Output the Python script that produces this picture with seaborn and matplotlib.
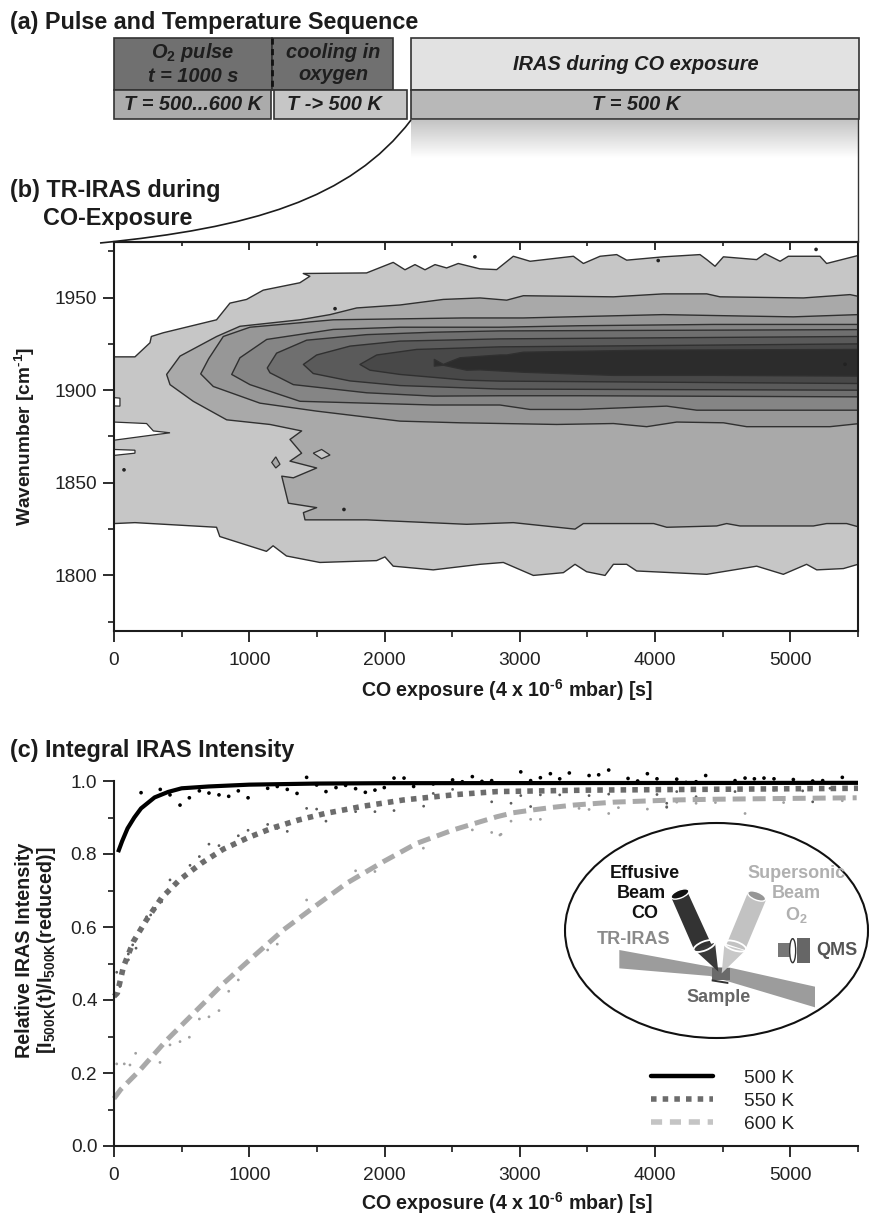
import numpy as np
import matplotlib
matplotlib.use("Agg")
import matplotlib.pyplot as plt
import seaborn as sns
from matplotlib.lines import Line2D
from matplotlib.patches import Ellipse, Polygon, Rectangle, PathPatch
from matplotlib.path import Path

# ---------- panel (b): contour band outlines (exposure, wavenumber) ----------
b1_up_x = [0, 155, 266, 276, 364, 758, 857, 980, 1103, 1374, 1448, 1399, 1867, 2064, 2151, 2225, 2299, 2373, 2459, 2545, 2705, 2829, 2952, 3076, 3396, 3470, 3593, 3716, 3790, 4061, 4332, 4382, 4443, 4505, 4751, 4813, 4924, 4985, 5219, 5268, 5500]
b1_up_w = [1918, 1918, 1925.6, 1929, 1931, 1938, 1947, 1949, 1954, 1958, 1961.5, 1963, 1963.3, 1969, 1965, 1967.8, 1965, 1967.8, 1966, 1968.4, 1965.5, 1965.1, 1972.3, 1969.6, 1972.3, 1968.4, 1972.3, 1973.2, 1970.2, 1972, 1973.2, 1970.5, 1966.9, 1972, 1970.5, 1973.7, 1969.6, 1972.3, 1972.3, 1968.4, 1972.7]
b1_lo_x = [0, 155, 758, 782, 1127, 1176, 1275, 1522, 1941, 2003, 2064, 2360, 2706, 2878, 3100, 3322, 3408, 3494, 3630, 3692, 3790, 3864, 4382, 4751, 4948, 5120, 5195, 5392, 5500]
b1_lo_w = [1828, 1828.5, 1826, 1821, 1813, 1816, 1810.5, 1807, 1808, 1810, 1805, 1803, 1806, 1807, 1800, 1801.5, 1806, 1802, 1800, 1806, 1806, 1802.4, 1800.6, 1805, 1800.6, 1806, 1803, 1803.7, 1806]

b2_up_x = [389, 488, 759, 931, 1375, 1597, 1794, 2114, 2434, 2706, 2903, 3026, 3692, 4061, 4382, 4480, 5096, 5441, 5500]
b2_up_w = [1908.5, 1918.4, 1929, 1934.5, 1938, 1940.8, 1944.4, 1946, 1949, 1949.8, 1948.6, 1951, 1950.4, 1952, 1952, 1950.4, 1949.8, 1951.6, 1950.7]
b2_lo_x = [389, 414, 586, 833, 1153, 1387, 1301, 1387, 1301, 1498, 1326, 1240, 1289, 1498, 1400, 1412, 1868, 2607, 2952, 3408, 3470, 3990, 4086, 4455, 4529, 4628, 5170, 5268, 5416, 5500]
b2_lo_w = [1908.5, 1903, 1894, 1884, 1881.5, 1878, 1873.4, 1866, 1861.7, 1858, 1852.7, 1853.6, 1839, 1836.6, 1833.9, 1830, 1830, 1827.6, 1828.5, 1825, 1828, 1828, 1826, 1826.7, 1828, 1826.7, 1826.7, 1828, 1828, 1826.3]

b3_up_x = [641, 700, 808, 1005, 1621, 2582, 3026, 4061, 4677, 5022, 5500]
b3_up_w = [1908.8, 1917, 1929, 1934, 1938, 1939, 1939, 1940.8, 1940, 1939.6, 1940.8]
b3_lo_x = [641, 734, 1079, 1498, 2114, 2558, 3273, 3692, 3938, 4160, 4505, 4677, 5293, 5500]
b3_lo_w = [1908.8, 1902, 1893, 1888.7, 1883.3, 1882.4, 1881.5, 1882, 1880.3, 1882.8, 1882.4, 1880.3, 1880.3, 1881.9]

b4_up_x = [870, 931, 1129, 1621, 2114, 2853, 3445, 4431, 5500]
b4_up_w = [1908.5, 1917.5, 1927.4, 1932.8, 1934, 1934, 1934.8, 1935.5, 1935.5]
b4_lo_x = [870, 1005, 1375, 2360, 2853, 3076, 3445, 4086, 4308, 5500]
b4_lo_w = [1908.5, 1903, 1894, 1892, 1892, 1889.6, 1889.6, 1891.4, 1889.2, 1889.2]

b5_up_x = [1133, 1202, 1424, 1868, 2360, 2853, 5500]
b5_up_w = [1912, 1920, 1927, 1930, 1931.3, 1932, 1932.7]
b5_lo_x = [1133, 1153, 1326, 1868, 2360, 2853, 3445, 5500]
b5_lo_w = [1912, 1909.4, 1903, 1898.6, 1896.8, 1897, 1897, 1896.4]

b6_up_x = [1400, 1498, 1745, 2114, 2853, 5500]
b6_up_w = [1913.9, 1919, 1923.8, 1926.5, 1927.7, 1929]
b6_lo_x = [1400, 1473, 1745, 2114, 2853, 5500]
b6_lo_w = [1913.9, 1909, 1905, 1902.5, 1900.6, 1900]

b7_up_x = [1818, 1942, 2237, 2853, 5500]
b7_up_w = [1913.9, 1919, 1922, 1923.4, 1925]
b7_lo_x = [1818, 1892, 2114, 2607, 2853, 5500]
b7_lo_w = [1913.9, 1910.8, 1908.5, 1905.4, 1904.9, 1903.6]

b8_up_x = [2368, 2434, 2558, 2853, 2903, 3026, 3938, 5500]
b8_up_w = [1916.6, 1913.9, 1917.5, 1919, 1919, 1920.5, 1921.6, 1922]
b8_lo_x = [2368, 2434, 2607, 2706, 3026, 3692, 4431, 5500]
b8_lo_w = [1913, 1913.5, 1910.8, 1911, 1909.7, 1908, 1908, 1907.6]

band_colors = ["#c6c6c6", "#a9a9a9", "#979797", "#858585", "#6f6f6f", "#5a5a5a", "#484848", "#2c2c2c"]

notch1_x = [0, 241, 291, 414, 266, 0]
notch1_w = [1882.8, 1882, 1878, 1877, 1875.6, 1873]
notch2_x = [0, 155, 155, 0]
notch2_w = [1868, 1867.6, 1866, 1864.8]
notch3_x = [0, 44, 44, 0]
notch3_w = [1896, 1895.7, 1891.4, 1891.5]
isle1_x = [1473, 1535, 1597, 1535]
isle1_w = [1866, 1868, 1865, 1863]
isle2_x = [1166, 1196, 1227, 1196]
isle2_w = [1861, 1864, 1860, 1858]
speck_x = [1634, 2668, 1700, 74, 5404, 5190, 4023]
speck_w = [1944, 1972, 1835.6, 1857, 1914, 1976, 1970]

# ---------- panel (c) ----------
fit500_x = [30, 60, 100, 150, 200, 300, 400, 500, 700, 1000, 1500, 2000, 5500]
fit500_y = [0.805, 0.835, 0.87, 0.90, 0.925, 0.955, 0.97, 0.98, 0.985, 0.99, 0.993, 0.994, 0.995]
fit550_x = [0, 25, 69, 143, 241, 352, 487, 647, 807, 992, 1177, 1362, 1560, 1843, 2139, 2533, 2829, 3500, 5500]
fit550_y = [0.41, 0.419, 0.49, 0.56, 0.62, 0.68, 0.73, 0.775, 0.813, 0.845, 0.872, 0.893, 0.911, 0.931, 0.948, 0.963, 0.971, 0.975, 0.98]
fit600_x = [0, 50, 192, 389, 611, 808, 1030, 1252, 1498, 1720, 1991, 2237, 2508, 2829, 2951, 3100, 3248, 3396, 3544, 3692, 3840, 4136, 4431, 4924, 5490]
fit600_y = [0.13, 0.155, 0.208, 0.29, 0.372, 0.445, 0.519, 0.592, 0.66, 0.72, 0.779, 0.829, 0.866, 0.902, 0.913, 0.921, 0.928, 0.934, 0.938, 0.942, 0.944, 0.948, 0.95, 0.952, 0.954]

pts500_x = [200, 342, 414, 488, 557, 631, 702, 776, 848, 919, 991, 1136, 1207, 1281, 1353, 1424, 1498, 1567, 1641, 1712, 1786, 1858, 1929, 1998, 2070, 2144, 2215, 2360, 2503, 2575, 2649, 2720, 2792, 3007, 3080, 3152, 3226, 3295, 3366, 3512, 3583, 3657, 3800, 3871, 3943, 4014, 4160, 4229, 4303, 4374, 4591, 4665, 4734, 4805, 4879, 5022, 5165, 5239, 5384]
pts500_y = [0.968, 0.977, 0.962, 0.934, 0.954, 0.973, 0.967, 0.962, 0.958, 0.973, 0.954, 0.980, 0.985, 0.977, 0.966, 1.010, 0.989, 0.971, 0.982, 0.988, 0.979, 0.969, 0.975, 0.982, 1.008, 1.008, 0.985, 0.992, 1.003, 0.998, 1.012, 0.999, 1.001, 1.025, 1.001, 1.009, 1.020, 1.006, 1.022, 1.015, 1.017, 1.030, 1.007, 1.000, 1.020, 1.006, 1.005, 0.996, 0.998, 1.015, 1.001, 1.008, 1.006, 1.008, 1.006, 1.004, 1.000, 1.001, 1.010]
pts550_x = [20, 44, 106, 163, 138, 106, 241, 303, 271, 352, 414, 562, 631, 702, 776, 919, 991, 1136, 1207, 1281, 1424, 1498, 1567, 1786, 1929, 2070, 2289, 2360, 2503, 2792, 2935, 3080, 3007, 3152, 3295, 3512, 3657, 4014, 4086, 4086, 4160, 4303, 4591, 4879, 5091, 5165, 5293]
pts550_y = [0.476, 0.437, 0.510, 0.542, 0.551, 0.526, 0.628, 0.651, 0.633, 0.669, 0.729, 0.769, 0.793, 0.827, 0.823, 0.850, 0.865, 0.881, 0.870, 0.862, 0.925, 0.923, 0.890, 0.916, 0.916, 0.919, 0.931, 0.966, 0.977, 0.943, 0.939, 0.930, 0.960, 0.962, 0.962, 0.960, 0.964, 0.963, 0.939, 0.928, 0.971, 0.957, 0.971, 0.975, 0.973, 0.943, 0.980]
pts600_x = [20, 76, 118, 160, 340, 414, 488, 557, 631, 702, 776, 848, 919, 1136, 1207, 1424, 1786, 1929, 2287, 2649, 2792, 2853, 2861, 2935, 3080, 3152, 3438, 3512, 3729, 3657, 3943, 4086, 4160, 4303, 4446, 4665, 4950, 5239, 5384]
pts600_y = [0.225, 0.225, 0.222, 0.254, 0.229, 0.277, 0.286, 0.298, 0.348, 0.354, 0.371, 0.424, 0.455, 0.537, 0.553, 0.674, 0.754, 0.752, 0.816, 0.866, 0.859, 0.852, 0.854, 0.890, 0.895, 0.895, 0.925, 0.922, 0.927, 0.911, 0.923, 0.930, 0.942, 0.939, 0.941, 0.911, 0.941, 0.955, 0.946]

x_major = [0, 1000, 2000, 3000, 4000, 5000]
x_minor = [500, 1500, 2500, 3500, 4500, 5500]
b_y_major = [1800, 1850, 1900, 1950]
b_y_minor = [1775, 1825, 1875, 1925, 1975]
c_y_major = [0.0, 0.2, 0.4, 0.6, 0.8, 1.0]
c_y_minor = [0.1, 0.3, 0.5, 0.7, 0.9]
legend_labels = ["500 K", "550 K", "600 K"]

# ---------- style ----------
sns.set_theme(style="ticks")
plt.rcParams["font.family"] = ["Liberation Sans", "DejaVu Sans"]
plt.rcParams["mathtext.fontset"] = "custom"
plt.rcParams["mathtext.rm"] = "Liberation Sans:bold"
plt.rcParams["mathtext.bf"] = "Liberation Sans:bold"
plt.rcParams["mathtext.it"] = "Liberation Sans:italic:bold"
INK = "#1c1c1c"
W, H = 869, 1214
fig = plt.figure(figsize=(W / 100, H / 100), dpi=100, facecolor="white")


def axes_px(l, t, r, b):
    return fig.add_axes([l / W, 1 - b / H, (r - l) / W, (b - t) / H])


def style_ticks(ax, ymaj, ymin):
    ax.set_xticks(x_major)
    ax.set_xticks(x_minor, minor=True)
    ax.set_yticks(ymaj)
    ax.set_yticks(ymin, minor=True)
    ax.tick_params(which="major", length=8, width=1.3, color=INK, labelsize=13.8, labelcolor="#222222")
    ax.tick_params(which="minor", length=4, width=1.2, color=INK)
    ax.tick_params(axis="x", which="major", pad=7)
    ax.tick_params(axis="y", which="major", pad=4)


XLABEL = r"CO exposure (4 x 10$^{\text{-6}}$ mbar) [s]"

# ---------- panel b ----------
axb = axes_px(114, 242, 858, 631)
axb.set_xlim(0, 5500)
axb.set_ylim(1770, 1980)
bands = [
    (b1_up_x, b1_up_w, b1_lo_x, b1_lo_w), (b2_up_x, b2_up_w, b2_lo_x, b2_lo_w),
    (b3_up_x, b3_up_w, b3_lo_x, b3_lo_w), (b4_up_x, b4_up_w, b4_lo_x, b4_lo_w),
    (b5_up_x, b5_up_w, b5_lo_x, b5_lo_w), (b6_up_x, b6_up_w, b6_lo_x, b6_lo_w),
    (b7_up_x, b7_up_w, b7_lo_x, b7_lo_w), (b8_up_x, b8_up_w, b8_lo_x, b8_lo_w),
]
for (ux, uw, lx, lw_), col in zip(bands, band_colors):
    xs = list(ux) + list(lx)[::-1]
    ws = list(uw) + list(lw_)[::-1]
    axb.fill(xs, ws, facecolor=col, edgecolor="#303030", linewidth=1.0, joinstyle="round")
for xs, ws in [(notch1_x, notch1_w), (notch2_x, notch2_w), (notch3_x, notch3_w)]:
    axb.fill(xs, ws, facecolor="white", edgecolor="#303030", linewidth=0.9)
axb.fill(isle1_x, isle1_w, facecolor=band_colors[0], edgecolor="#303030", linewidth=0.9)
axb.fill(isle2_x, isle2_w, facecolor=band_colors[1], edgecolor="#303030", linewidth=0.9)
sns.scatterplot(x=speck_x, y=speck_w, ax=axb, s=7, color="#222222", edgecolor="none", legend=False)
style_ticks(axb, b_y_major, b_y_minor)
axb.tick_params(which="both", top=False, right=False)
sec = axb.secondary_xaxis("top")
sec.set_xticks(x_major)
sec.set_xticks(x_minor, minor=True)
sec.tick_params(which="major", direction="in", length=5.5, width=1.3, color=INK, labeltop=False)
sec.tick_params(which="minor", direction="in", length=3, width=1.2, color=INK)
sec.spines["top"].set_linewidth(1.5)
for sp in axb.spines.values():
    sp.set_color(INK)
    sp.set_linewidth(1.5)
axb.set_xlabel(XLABEL, fontsize=14.1, fontweight="bold", color=INK, va="center")
axb.xaxis.set_label_coords(0.528, -0.152)
axb.set_ylabel(r"Wavenumber [cm$^{\text{-1}}$]", fontsize=13.8, fontweight="bold", color=INK, va="center")
axb.yaxis.set_label_coords(-0.120, 0.50)

# ---------- panel c ----------
axc = axes_px(114, 781, 858, 1146)
axc.set_xlim(0, 5500)
axc.set_ylim(0, 1.0)
C500, C550, C600 = "#000000", "#6c6c6c", "#a9a9a9"
sns.scatterplot(x=pts600_x, y=pts600_y, ax=axc, s=4, color="#a0a0a0", edgecolor="none", legend=False, clip_on=False)
sns.scatterplot(x=pts550_x, y=pts550_y, ax=axc, s=4, color="#5c5c5c", edgecolor="none", legend=False, clip_on=False)
sns.scatterplot(x=pts500_x, y=pts500_y, ax=axc, s=7, color="#000000", edgecolor="none", legend=False, clip_on=False)
sns.lineplot(x=fit600_x, y=fit600_y, ax=axc, color=C600, linewidth=3.6, linestyle=(0, (2.6, 1.4)), legend=False, errorbar=None, clip_on=False)
sns.lineplot(x=fit550_x, y=fit550_y, ax=axc, color=C550, linewidth=4.0, linestyle=(0, (1.0, 1.1)), legend=False, errorbar=None, clip_on=False)
sns.lineplot(x=fit500_x, y=fit500_y, ax=axc, color=C500, linewidth=3.0, legend=False, errorbar=None, clip_on=False, solid_capstyle="butt")
style_ticks(axc, c_y_major, c_y_minor)
axc.set_yticklabels([f"{v:.1f}" for v in c_y_major])
axc.spines["top"].set_visible(False)
axc.spines["right"].set_visible(False)
axc.spines["left"].set_color(INK)
axc.spines["bottom"].set_color(INK)
axc.spines["left"].set_linewidth(1.5)
axc.spines["bottom"].set_linewidth(1.5)
axc.set_xlabel(XLABEL, fontsize=14.1, fontweight="bold", color=INK, va="center")
axc.xaxis.set_label_coords(0.528, -0.157)
axc.set_ylabel("Relative IRAS Intensity\n" + r"[I$_{\mathbf{500K}}$(t)/I$_{\mathbf{500K}}$(reduced)]",
               fontsize=14.2, fontweight="bold", color=INK, va="center", linespacing=1.1)
axc.yaxis.set_label_coords(-0.104, 0.537)
handles = [
    Line2D([], [], color="#000000", linewidth=3.2),
    Line2D([], [], color=C550, linewidth=4.0, linestyle=(0, (1.0, 1.1))),
    Line2D([], [], color="#c4c4c4", linewidth=4.0, linestyle=(0, (2.0, 1.4))),
]
axc.legend(handles, legend_labels, frameon=False, fontsize=13.8, handlelength=3.25, handletextpad=1.6,
           labelspacing=0.3, loc="lower left", bbox_to_anchor=(0.700, -0.009), borderaxespad=0.45,
           labelcolor="#222222")

# ---------- overlay in pixel space: titles, sequence boxes, sketch ----------
ov = fig.add_axes([0, 0, 1, 1], zorder=5)
ov.axis("off")
ov.patch.set_alpha(0)

TB = dict(fontsize=16.8, fontweight="bold", color=INK, va="center", ha="left")
ov.text(10, 22, "(a) Pulse and Temperature Sequence", **TB)
ov.text(10, 191, "(b) TR-IRAS during", **TB)
ov.text(43, 218, "CO-Exposure", **TB)
ov.text(10, 751, "(c) Integral IRAS Intensity", **TB)


def box(l, t, r, b, fc):
    ov.add_patch(Rectangle((l, t), r - l, b - t, facecolor=fc, edgecolor="#333333", linewidth=1.2))


grad = np.linspace(0, 1, 64).reshape(-1, 1)
ov.imshow(grad, extent=(411, 858, 158, 120), cmap=matplotlib.colors.LinearSegmentedColormap.from_list("g", ["#c4c4c4", "#ffffff"]),
          aspect="auto", vmin=0, vmax=1, zorder=0)
ov.set_xlim(0, W)
ov.set_ylim(H, 0)
box(114, 38, 272, 90, "#707070")
box(272, 38, 393, 90, "#707070")
box(114, 90, 271, 119, "#ababab")
box(274, 90, 407, 119, "#c6c6c6")
box(411, 38, 859, 90, "#e2e2e2")
box(411, 90, 859, 119, "#b8b8b8")
ov.plot([272, 272], [38, 90], color="#111111", lw=2.0, ls=(0, (2.2, 1.6)))
ov.add_patch(PathPatch(Path([(411, 120), (350, 200), (250, 228), (100, 243)], [Path.MOVETO, Path.CURVE4, Path.CURVE4, Path.CURVE4]),
                       facecolor="none", edgecolor=INK, linewidth=1.2))
ov.plot([858, 858], [119, 242], color="#333333", lw=1.0)

BI = dict(fontsize=14.4, fontweight="bold", fontstyle="italic", color="#1e1e1e", ha="center", va="center")
ov.text(193, 52, r"O$_{\mathbf{2}}$ pulse", **BI)
ov.text(193, 77, "t = 1000 s", **BI)
ov.text(333, 52, "cooling in", **BI)
ov.text(333, 74, "oxygen", **BI)
ov.text(193, 105, "T = 500...600 K", **BI)
ov.text(334, 105, "T -> 500 K", **BI)
ov.text(636, 64, "IRAS during CO exposure", **BI)
ov.text(636, 105, "T = 500 K", **BI)

# sketch
ov.add_patch(Ellipse((716.5, 930.5), 303, 215, facecolor="white", edgecolor="#111111", linewidth=1.5, zorder=6))


def zp(zx, zy):
    return (540 + zx / 3, 820 + zy / 3)


def poly(pts, fc, z=7, ec="none", lw=0.0):
    ov.add_patch(Polygon([zp(*p) for p in pts], closed=True, facecolor=fc, edgecolor=ec, linewidth=lw, zorder=z))


poly([(238, 390), (238, 445), (510, 468), (825, 562), (825, 500), (570, 443), (510, 440)], "#9c9c9c")
poly([(515, 445), (570, 445), (570, 480), (515, 480)], "#6a6a6a", z=8)
poly([(515, 478), (565, 486), (565, 492), (515, 484)], "#333333", z=8)
poly([(395, 235), (442, 215), (515, 375), (465, 395)], "#333333", z=8)
poly([(462, 388), (525, 368), (535, 455)], "#3a3a3a", z=8)
poly([(622, 222), (678, 240), (615, 390), (560, 372)], "#c2c2c2", z=8)
poly([(553, 375), (615, 392), (545, 460)], "#c8c8c8", z=8)
ov.add_patch(Ellipse(zp(420, 222), 19, 8, angle=-22, facecolor="#111111", zorder=9))
ov.add_patch(Ellipse(zp(650, 228), 19, 8, angle=22, facecolor="#969696", zorder=9))
ov.add_patch(Ellipse(zp(493, 378), 23, 9, angle=-22, facecolor="none", edgecolor="white", linewidth=1.3, zorder=9))
ov.add_patch(Ellipse(zp(585, 378), 23, 9, angle=18, facecolor="none", edgecolor="white", linewidth=1.3, zorder=9))
poly([(715, 368), (750, 368), (750, 412), (715, 412)], "#777777")
poly([(770, 355), (810, 355), (810, 430), (770, 430)], "#666666")
ov.add_patch(Ellipse(zp(758, 392), 6, 24, facecolor="white", edgecolor="#333333", linewidth=1.0, zorder=8))

SK = dict(fontsize=13.0, fontweight="bold", ha="center", va="center", zorder=10)
ov.text(*zp(313, 162), "Effusive", color="#111111", **SK)
ov.text(*zp(305, 222), "Beam", color="#111111", **SK)
ov.text(*zp(313, 282), "CO", color="#111111", **SK)
ov.text(*zp(770, 160), "Supersonic", color="#b0b0b0", **SK)
ov.text(*zp(770, 222), "Beam", color="#b0b0b0", **SK)
ov.text(*zp(768, 284), r"O$_{\mathbf{2}}$", color="#b0b0b0", **SK)
ov.text(*zp(282, 360), "TR-IRAS", color="#8a8a8a", **SK)
ov.text(*zp(890, 392), "QMS", color="#555555", **SK)
ov.text(*zp(535, 532), "Sample", color="#666666", **SK)

fig.savefig("out.png", dpi=100, facecolor="white")
